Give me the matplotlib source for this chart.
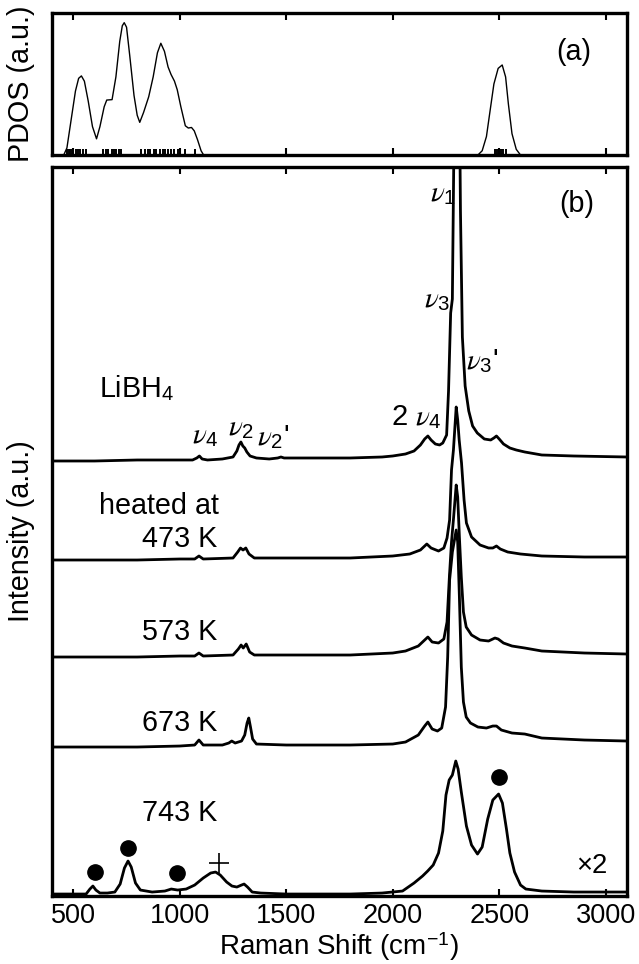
import numpy as np
import matplotlib.pyplot as plt

plt.rcParams['font.family'] = ['Liberation Sans', 'DejaVu Sans']
plt.rcParams['mathtext.fontset'] = 'custom'
plt.rcParams['mathtext.rm'] = 'Liberation Sans'
plt.rcParams['mathtext.it'] = 'STIXGeneral:italic'
plt.rcParams['mathtext.bf'] = 'Liberation Sans:bold'

# ---- (a) phonon density of states (fraction of panel height)
pdos_x = [400, 455, 470, 490, 510, 525, 538, 552, 570, 590, 609, 625, 645, 657, 682,
          700, 718, 730, 739, 750, 765, 785, 800, 812, 830, 854, 875, 895, 911, 928,
          945, 959, 975, 988, 1005, 1026, 1040, 1055, 1068, 1083, 1100, 1112,
          2400, 2420, 2440, 2456, 2475, 2495, 2514, 2530, 2543, 2560, 2580, 2600, 3100]
pdos_y = [0, 0, 0.05, 0.25, 0.45, 0.54, 0.557, 0.52, 0.38, 0.2, 0.114, 0.2, 0.34, 0.387, 0.39,
          0.55, 0.8, 0.91, 0.932, 0.9, 0.7, 0.42, 0.28, 0.23, 0.3, 0.41, 0.55, 0.72, 0.787, 0.73,
          0.62, 0.567, 0.52, 0.46, 0.34, 0.206, 0.19, 0.194, 0.17, 0.109, 0.03, 0,
          0, 0.03, 0.13, 0.3, 0.5, 0.61, 0.634, 0.55, 0.36, 0.15, 0.04, 0, 0]
# calculated mode frequencies (rug marks)
modes = [470, 478, 485, 493, 500, 512, 520, 530, 545, 560, 640, 652, 664, 680, 690,
         702, 715, 724, 820, 835, 850, 862, 878, 890, 905, 920, 932, 947, 960, 975,
         990, 1025, 1072, 2478, 2490, 2500, 2508, 2520, 2532]

# ---- (b) Raman spectra, intensity above each baseline (a.u.)
x_libh4 = [400, 600, 800, 1000, 1060, 1080, 1092, 1105, 1130, 1200, 1250, 1268, 1278, 1287, 1296,
           1305, 1315, 1330, 1360, 1420, 1460, 1475, 1490, 1600, 1800, 1950, 2000, 2060, 2100, 2130,
           2150, 2165, 2180, 2200, 2220, 2235, 2253, 2262, 2272, 2280, 2288, 2295, 2303, 2310, 2318,
           2327, 2340, 2357, 2375, 2397, 2430, 2460, 2475, 2487, 2500, 2520, 2550, 2580, 2620, 2700,
           2850, 3100]
y_libh4 = [0, 0, 1, 1, 1, 3, 5, 2, 1, 2, 4, 10, 16, 19, 15,
           13, 9, 5, 3, 2, 3, 4, 3, 3, 3, 4, 5, 7, 10, 16,
           22, 25, 21, 17, 16, 18, 26, 70, 148, 162, 330, 800, 800, 450, 250,
           124, 75, 50, 35, 28, 22, 21, 23, 25, 22, 17, 13, 11, 9, 6,
           5, 4]

x_473 = [400, 800, 1000, 1070, 1090, 1110, 1250, 1272, 1285, 1297, 1310, 1325, 1350, 1500, 1800,
         2000, 2080, 2130, 2160, 2180, 2215, 2240, 2255, 2267, 2276, 2285, 2298, 2305, 2312, 2323,
         2335, 2346, 2370, 2410, 2450, 2470, 2487, 2505, 2540, 2600, 2700, 2900, 3100]
y_473 = [0, 0, 1, 1, 4, 1, 2, 8, 12, 10, 12, 6, 2, 2, 2,
         4, 6, 10, 16, 12, 9, 12, 22, 40, 90, 110, 153, 140, 120, 97,
         60, 37, 23, 15, 12, 12, 14, 11, 8, 6, 4, 3, 3]

x_573 = [400, 800, 1000, 1070, 1090, 1110, 1250, 1275, 1288, 1298, 1312, 1328, 1350, 1500, 1800,
         2000, 2060, 2120, 2150, 2165, 2185, 2215, 2240, 2255, 2266, 2276, 2286, 2298, 2305, 2313,
         2322, 2332, 2345, 2370, 2410, 2450, 2480, 2495, 2520, 2560, 2620, 2700, 2900, 3100]
y_573 = [0, 0, 1, 1, 4, 1, 2, 8, 12, 9, 13, 5, 2, 2, 2,
         4, 6, 11, 17, 20, 15, 14, 18, 35, 80, 115, 140, 172, 160, 120,
         80, 45, 30, 22, 17, 16, 19, 18, 14, 11, 9, 6, 4, 3]

x_673 = [400, 800, 1000, 1070, 1090, 1110, 1200, 1230, 1244, 1260, 1290, 1305, 1316, 1324, 1332,
         1342, 1360, 1500, 1800, 2000, 2060, 2120, 2150, 2165, 2185, 2210, 2230, 2248, 2258, 2267,
         2280, 2298, 2305, 2313, 2322, 2332, 2345, 2365, 2400, 2440, 2470, 2487, 2510, 2560, 2620,
         2700, 2900, 3100]
y_673 = [0, 0, 1, 2, 7, 2, 2, 4, 6, 4, 6, 12, 24, 29, 20,
         8, 3, 2, 2, 3, 5, 12, 21, 25, 18, 16, 19, 40, 90, 167,
         195, 217, 205, 150, 80, 45, 30, 24, 20, 19, 21, 21, 17, 14, 13,
         9, 7, 6]

x_743 = [400, 500, 560, 578, 592, 606, 625, 660, 695, 720, 740, 757, 772, 792, 815,
         870, 930, 960, 990, 1030, 1070, 1110, 1145, 1168, 1190, 1220, 1245, 1268, 1290, 1302,
         1318, 1340, 1380, 1500, 1800, 1950, 2046, 2100, 2140, 2164, 2190, 2215, 2235, 2250, 2265,
         2280, 2296, 2307, 2322, 2346, 2370, 2398, 2420, 2446, 2470, 2497, 2515, 2534, 2550, 2572,
         2600, 2625, 2700, 2850, 3100]
y_743 = [1, 1, 1, 6, 9, 5, 2, 2, 3, 11, 27, 34, 28, 12, 5,
         3, 4, 6, 5, 6, 10, 17, 22, 23, 20, 13, 9, 8, 10, 11,
         8, 3, 2, 1, 1, 2, 4, 12, 19, 24, 30, 42, 64, 100, 115,
         120, 134, 126, 103, 69, 50, 41, 48, 76, 95, 101, 92, 66, 42, 23,
         10, 6, 4, 3, 3]

spectra = [(x_libh4, y_libh4), (x_473, y_473), (x_573, y_573), (x_673, y_673), (x_743, y_743)]
offsets = [435, 336, 239, 149, 1]

# impurity peaks in the 743 K spectrum
dot_x = [602, 756, 986, 2501]
dot_y = [24, 48, 23, 119]
plus_x = [1183]
plus_y = [33]

fig = plt.figure(figsize=(6.39, 9.64), dpi=100)
ax_a = fig.add_axes([0.0814, 0.8392, 0.8998, 0.1473])
ax_b = fig.add_axes([0.0814, 0.0705, 0.8998, 0.7563])

fs = 20.7

ax_a.plot(pdos_x, pdos_y, color='black', lw=1.0)
ax_a.vlines(modes, 0, 0.04, color='black', lw=1.4)
ax_a.set_xlim(400, 3100)
ax_a.set_ylim(0, 1.0)
ax_a.set_yticks([])
ax_a.set_xticks([500, 1000, 1500, 2000, 2500, 3000])
ax_a.tick_params(axis='x', direction='in', top=True, bottom=True, labelbottom=False,
                 length=5, width=1.5)
ax_a.set_ylabel('PDOS (a.u.)', fontsize=fs)
ax_a.yaxis.set_label_coords(-0.03, 0.5)
ax_a.text(2848, 0.725, '(a)', fontsize=fs, ha='center', va='center')

for (sx, sy), off in zip(spectra, offsets):
    ax_b.plot(sx, np.array(sy) + off, color='black', lw=2.0, solid_joinstyle='round')

ax_b.plot(dot_x, dot_y, 'o', color='black', ms=11)
ax_b.plot(plus_x, plus_y, '+', color='black', ms=15, mew=1.2)

ax_b.set_xlim(400, 3100)
ax_b.set_ylim(0, 729)
ax_b.set_yticks([])
ax_b.set_xticks([500, 1000, 1500, 2000, 2500, 3000])
ax_b.tick_params(axis='x', direction='in', top=True, bottom=True, length=5, width=1.5,
                 labelsize=19.5, pad=5)
ax_b.set_xlabel('Raman Shift (cm$^{-1}$)', fontsize=20, labelpad=1)
ax_b.set_ylabel('Intensity (a.u.)', fontsize=fs)
ax_b.yaxis.set_label_coords(-0.03, 0.5)

for ax in (ax_a, ax_b):
    for sp in ax.spines.values():
        sp.set_linewidth(2.4)

# labels
ax_b.text(2862, 692, '(b)', fontsize=fs, ha='center', va='center')
ax_b.text(620, 508, 'LiBH$_4$', fontsize=fs, ha='left', va='center')
ax_b.text(620, 390, 'heated at', fontsize=fs, ha='left', va='center')
ax_b.text(1174, 357, '473 K', fontsize=fs, ha='right', va='center')
ax_b.text(1174, 264, '573 K', fontsize=fs, ha='right', va='center')
ax_b.text(1174, 173, '673 K', fontsize=fs, ha='right', va='center')
ax_b.text(1174, 83, '743 K', fontsize=fs, ha='right', va='center')
ax_b.text(2933, 30, '\u00d72', fontsize=fs - 1, ha='center', va='center')

mode_labels = [r'$\nu_1$', r'$\nu_3$', r"$\nu_3$'", r'2 $\nu_4$', r'$\nu_4$', r'$\nu_2$', r"$\nu_2$'"]
mode_lx = [2234, 2210, 2422, 2112, 1118, 1287, 1437]
mode_ly = [703, 597, 535, 479, 461, 469, 459]
for t, lx, ly in zip(mode_labels, mode_lx, mode_ly):
    ax_b.text(lx, ly, t, fontsize=21, ha='center', va='center')

fig.savefig('out.png', dpi=100)
